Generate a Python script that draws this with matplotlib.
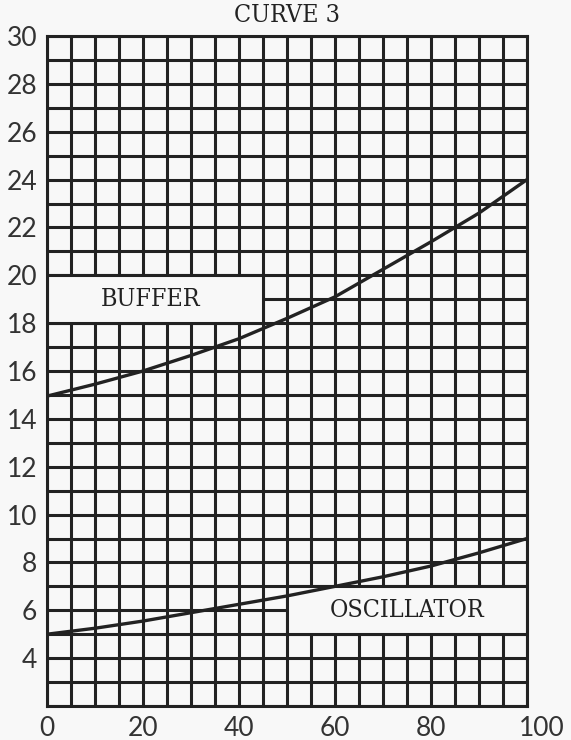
import matplotlib
matplotlib.use('Agg')
import matplotlib.pyplot as plt
import matplotlib.transforms as mtransforms
from matplotlib.patches import Rectangle

# ─── Données ──────────────────────────────────────────────
x_vals = [0, 10, 20, 30, 40, 50, 60, 70, 80, 90, 100]
buffer_vals = [14.95, 15.45, 16.0, 16.65, 17.35, 18.2, 19.1, 20.25, 21.4, 22.6, 24.0]
osc_vals = [5.0, 5.25, 5.55, 5.9, 6.25, 6.6, 7.0, 7.4, 7.85, 8.4, 9.0]

x_ticks = [0, 20, 40, 60, 80, 100]
x_tick_labels = ['0', '20', '40', '60', '80', '100']
y_ticks = [4, 6, 8, 10, 12, 14, 16, 18, 20, 22, 24, 26, 28, 30]
y_tick_labels = [str(v) for v in y_ticks]

title = 'CURVE 3'
buffer_label = 'BUFFER'
osc_label = 'OSCILLATOR'
# boîtes blanches (x0, y0, largeur, hauteur) en unités du graphe
buffer_box = (0, 18, 45, 2)
osc_box = (50, 5, 50, 2)
# ──────────────────────────────────────────────────────────

INK = '#222222'
PAPER = '#f8f8f8'
LW = 2.2

fig = plt.figure(figsize=(5.71, 7.40), dpi=100, facecolor=PAPER)
ax = fig.add_axes([47 / 571, 34 / 740, 480 / 571, 670 / 740], facecolor=PAPER)

ax.set_xlim(0, 100)
ax.set_ylim(2, 30)

ax.set_xticks(x_ticks, labels=x_tick_labels)
ax.set_xticks(range(0, 101, 5), minor=True)
ax.set_yticks(y_ticks, labels=y_tick_labels)
ax.set_yticks(range(2, 31), minor=True)

ax.set_axisbelow(True)
ax.grid(True, which='both', color=INK, linewidth=LW)
ax.tick_params(which='both', length=0, labelcolor='#333333',
               labelsize=19, labelfontfamily='Lato')
ax.tick_params(axis='x', pad=7)
ax.tick_params(axis='y', pad=7)
for sp in ax.spines.values():
    sp.set_linewidth(LW)
    sp.set_color(INK)

# le "100" est décalé vers la droite sur l'original
last = ax.get_xticklabels()[-1]
last.set_horizontalalignment('left')
last.set_transform(last.get_transform() +
                   mtransforms.ScaledTranslation(-8 / 100, 0, fig.dpi_scale_trans))

for box in (buffer_box, osc_box):
    ax.add_patch(Rectangle((box[0], box[1]), box[2], box[3],
                           facecolor=PAPER, edgecolor=INK, linewidth=LW, zorder=1.5))

ax.plot(x_vals, buffer_vals, color=INK, linewidth=2.4, zorder=3,
        solid_capstyle='round')
ax.plot(x_vals, osc_vals, color=INK, linewidth=2.4, zorder=3,
        solid_capstyle='round')

txt = dict(family='DejaVu Serif', stretch='condensed', size=18, color=INK,
           ha='center', va='center', zorder=4)
ax.text(21.5, 19, buffer_label, **txt)
ax.text(75, 6, osc_label, **txt)
fig.text(287 / 571, 1 - 16 / 740, title, family='DejaVu Serif', stretch='condensed',
         size=18, color=INK, ha='center', va='center')

fig.savefig('out.png', dpi=100, facecolor=PAPER)
